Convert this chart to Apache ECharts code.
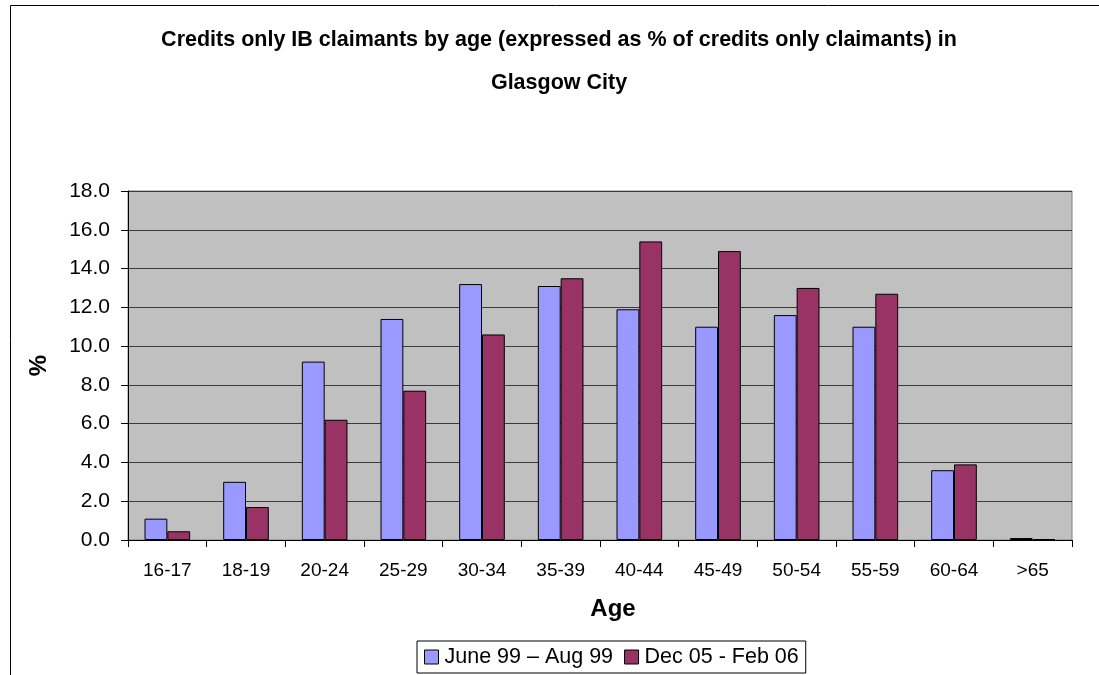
<!DOCTYPE html>
<html>
<head>
<meta charset="utf-8">
<script src="https://cdn.jsdelivr.net/npm/echarts@6/dist/echarts.min.js"></script>
<style>html,body{margin:0;padding:0;background:#fff;}#c{width:1099px;height:675px;}</style>
</head>
<body>
<div id="c"></div>
<script>
const categories = ['16-17','18-19','20-24','25-29','30-34','35-39','40-44','45-49','50-54','55-59','60-64','>65'];
const seriesNames = ['June 99 \u2013 Aug 99', 'Dec 05 - Feb 06'];
const june99 = [1.1, 3.0, 9.2, 11.4, 13.2, 13.1, 11.9, 11.0, 11.6, 11.0, 3.6, 0.1];
const dec05 = [0.45, 1.7, 6.2, 7.7, 10.6, 13.5, 15.4, 14.9, 13.0, 12.7, 3.9, 0.05];
const titleLines = ['Credits only IB claimants by age (expressed as % of credits only claimants) in', 'Glasgow City'];

const font = 'Liberation Sans, Arial, sans-serif';
const chart = echarts.init(document.getElementById('c'), null, {renderer: 'canvas'});
chart.setOption({
  animation: false,
  backgroundColor: '#ffffff',
  title: [
    {text: titleLines[0], left: 559, top: 29, textAlign: 'center', padding: 0,
     textStyle: {fontFamily: font, fontSize: 21.5, fontWeight: 'bold', color: '#000'}},
    {text: titleLines[1], left: 559, top: 72, textAlign: 'center', padding: 0,
     textStyle: {fontFamily: font, fontSize: 21.5, fontWeight: 'bold', color: '#000'}}
  ],
  graphic: [
    {type: 'rect', shape: {x: 10.5, y: 5.5, width: 1200, height: 800}, silent: true, z: -10,
     style: {fill: 'none', stroke: '#000', lineWidth: 1}}
  ],
  legend: {
    data: seriesNames,
    left: 417, top: 641,
    padding: [5, 7, 5, 7],
    borderColor: '#000', borderWidth: 1,
    itemWidth: 14, itemHeight: 14, itemGap: 11,
    icon: 'rect',
    textStyle: {fontFamily: font, fontSize: 21.5, color: '#000', padding: [0, 0, 0, 1]},
    itemStyle: {borderColor: '#000', borderWidth: 1}
  },
  grid: {left: 128, right: 27, top: 191, bottom: 135, show: true, backgroundColor: '#C0C0C0', borderColor: '#808080', borderWidth: 1},
  xAxis: {
    type: 'category', data: categories,
    name: 'Age', nameLocation: 'middle', nameGap: 57,
    nameTextStyle: {fontFamily: font, fontSize: 24, fontWeight: 'bold', color: '#000', padding: [0, 0, 0, 26]},
    axisLine: {lineStyle: {color: '#000', width: 1}},
    axisTick: {show: true, length: 7, lineStyle: {color: '#000'}},
    axisLabel: {fontFamily: font, fontSize: 19, color: '#000', margin: 21},
    splitLine: {show: false}
  },
  yAxis: {
    type: 'value', min: 0, max: 18, interval: 2,
    name: '%', nameLocation: 'middle', nameGap: 77, nameRotate: 90,
    nameTextStyle: {fontFamily: font, fontSize: 24, fontWeight: 'bold', color: '#000'},
    axisLine: {show: true, lineStyle: {color: '#000', width: 1}},
    axisTick: {show: true, length: 7, lineStyle: {color: '#000'}},
    axisLabel: {fontFamily: font, fontSize: 21, color: '#000', margin: 18, formatter: v => v.toFixed(1)},
    splitLine: {show: true, lineStyle: {color: '#3a3a3a', width: 1}}
  },
  series: [
    {name: seriesNames[0], type: 'bar', data: june99, barGap: '0%', barCategoryGap: '42%',
     itemStyle: {color: '#9999FF', borderColor: '#000', borderWidth: 1}},
    {name: seriesNames[1], type: 'bar', data: dec05, barGap: '0%', barCategoryGap: '42%',
     itemStyle: {color: '#993366', borderColor: '#000', borderWidth: 1}}
  ]
});
</script>
</body>
</html>
